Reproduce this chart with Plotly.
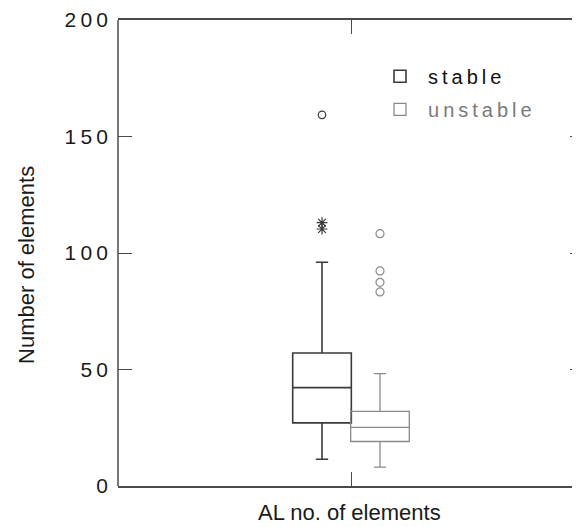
import plotly.graph_objects as go

# ---- data ----
groups = ["stable", "unstable"]
q1 = [27.1, 19.1]
median = [42.2, 25.2]
q3 = [57.1, 32.0]
lower_whisker = [11.5, 8.1]
upper_whisker = [96.0, 48.2]
outliers = [[159.3], [108.3, 92.3, 87.4, 83.3]]   # circles
extremes = [[113.0, 110.3], []]                    # asterisks
category = "AL no. of elements"
y_ticks = [0, 50, 100, 150, 200]

# ---- styling ----
colors = ["#3a3a3a", "#8a8a8a"]
legend_text_colors = ["#111111", "#7a7a7a"]
offsets = [-0.0622, 0.0622]
box_width = 0.1258
AXIS = "#4a4a4a"
FONT = "Liberation Sans, Arial, sans-serif"
TS = "\u2009"

# page geometry (the html body has an 8px margin)
PL, PR, PT, PB = 118, 584, 18, 486
PW, PH = PR - PL, PB - PT

def px(x):
    return (x - PL) / PW

def py(y):
    return (PB - y) / PH

fig = go.Figure()
for i, g in enumerate(groups):
    label = TS + TS + TS.join(g)
    fig.add_trace(go.Box(
        x=[offsets[i]], q1=[q1[i]], median=[median[i]], q3=[q3[i]],
        lowerfence=[lower_whisker[i]], upperfence=[upper_whisker[i]],
        width=box_width, whiskerwidth=0.21, boxpoints=False,
        fillcolor="rgba(255,255,255,0)",
        line=dict(color=colors[i], width=1.6 if i == 0 else 1.3),
        name=f'<span style="color:{legend_text_colors[i]}">{label}</span>',
        legendgroup=g, showlegend=True,
    ))
for i, g in enumerate(groups):
    if outliers[i]:
        fig.add_trace(go.Scatter(
            x=[offsets[i]] * len(outliers[i]), y=outliers[i], mode="markers",
            marker=dict(symbol="circle-open", size=8 if i else 7.5,
                        color=colors[i], line=dict(width=1.2)),
            showlegend=False, legendgroup=g,
        ))
    if extremes[i]:
        fig.add_trace(go.Scatter(
            x=[offsets[i]] * len(extremes[i]), y=extremes[i], mode="markers",
            marker=dict(symbol="asterisk-open", size=9,
                        color=colors[i], line=dict(width=1.2, color=colors[i])),
            showlegend=False, legendgroup=g,
        ))

fig.update_layout(
    width=576, height=519,
    margin=dict(l=PL - 8, r=0, t=PT - 8, b=519 - (PB - 8)),
    paper_bgcolor="white", plot_bgcolor="white",
    font=dict(family=FONT, color="#1a1a1a"),
    showlegend=True,
    legend=dict(
        x=px(380), y=0.921, xanchor="left", yanchor="top",
        font=dict(size=20, family=FONT),
        bgcolor="rgba(0,0,0,0)", traceorder="grouped", tracegroupgap=4,
        itemclick=False,
    ),
    xaxis=dict(
        range=[-0.5, 0.5],
        tickvals=[0], ticktext=[category], showticklabels=False,
        ticks="inside", ticklen=14, tickwidth=1.3, tickcolor=AXIS,
        showline=True, linecolor=AXIS, linewidth=1.5, mirror="ticks",
        showgrid=False, zeroline=False, fixedrange=True,
    ),
    yaxis=dict(
        range=[0, 200], tickvals=y_ticks,
        ticktext=[TS.join(str(v)) for v in y_ticks],
        tickfont=dict(size=21, family=FONT, color="#1a1a1a"),
        ticklabelstandoff=9, ticklabeloverflow="allow",
        ticks="inside", ticklen=14, tickwidth=1.3, tickcolor=AXIS,
        showline=False, mirror="ticks",
        showgrid=False, zeroline=False, fixedrange=True,
    ),
    shapes=[dict(type="line", xref="paper", yref="paper", x0=0, x1=0, y0=0, y1=1,
                 line=dict(color=AXIS, width=1.5))],
    annotations=[
        dict(text="Number of elements", textangle=-90, xref="paper", yref="paper",
             x=px(27), y=py(264), xanchor="center", yanchor="middle",
             showarrow=False, font=dict(size=22, family=FONT, color="#1a1a1a")),
        dict(text=category, xref="paper", yref="paper",
             x=px(349.5), y=py(512.5), xanchor="center", yanchor="middle",
             showarrow=False, font=dict(size=22, family=FONT, color="#1a1a1a")),
    ],
)

fig.write_html("out.html")
